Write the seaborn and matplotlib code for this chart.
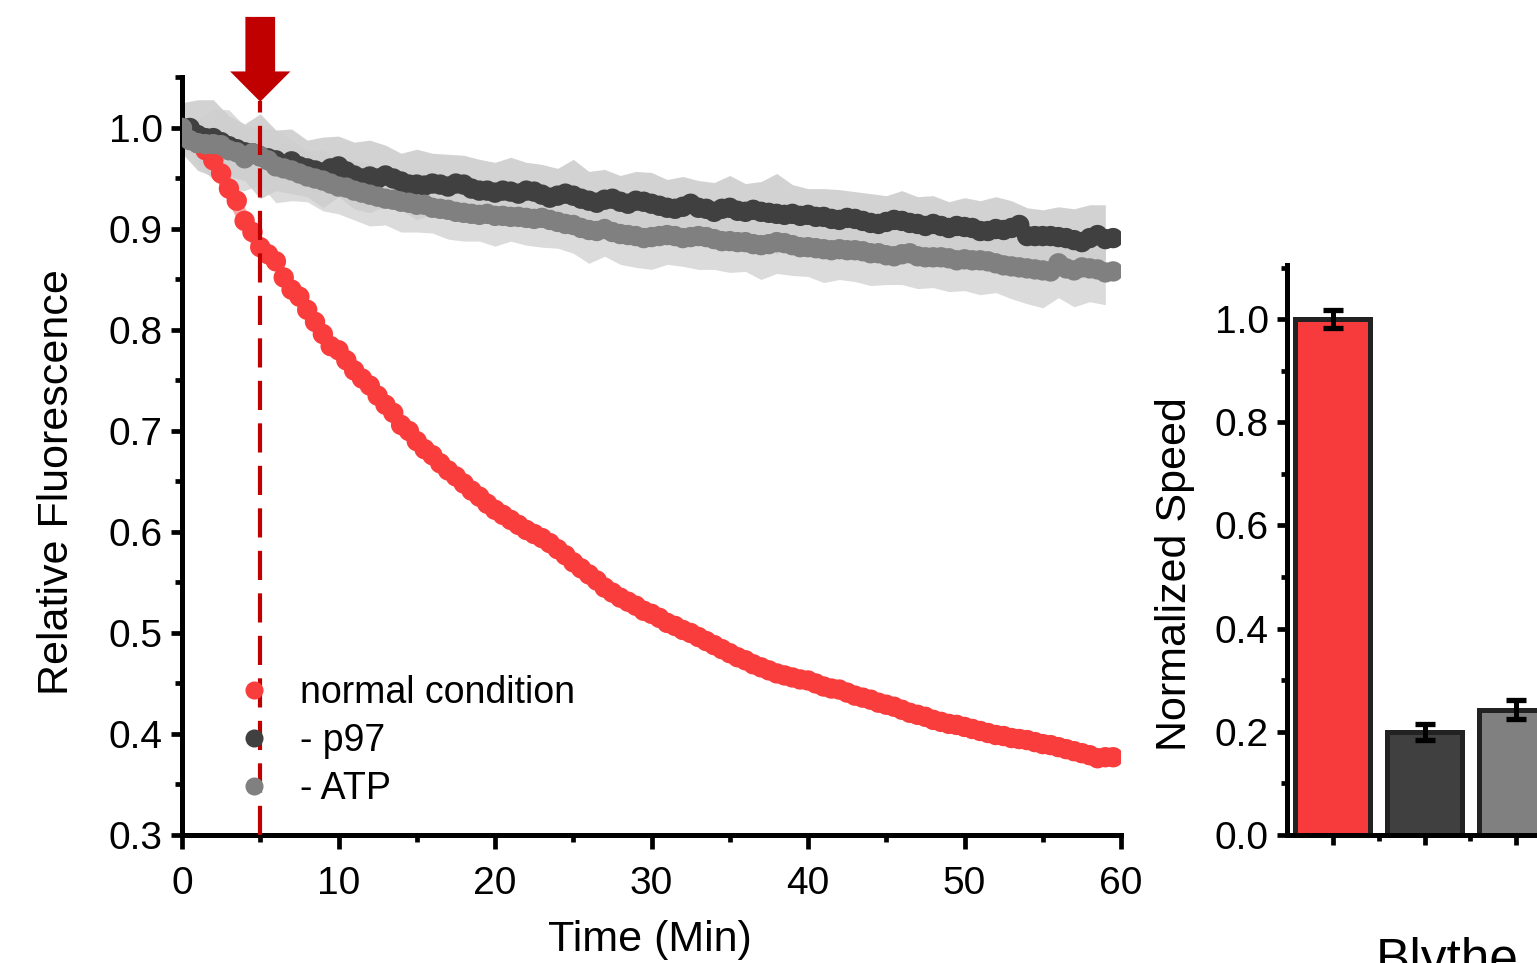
import numpy as np
import pandas as pd
import matplotlib
matplotlib.use("Agg")
import matplotlib.pyplot as plt
from matplotlib.lines import Line2D
from matplotlib.ticker import MultipleLocator, FixedLocator
import seaborn as sns

# ---------------- data ----------------
time_min = [i * 0.5 for i in range(120)]

normal_condition = [
    1.000, 0.995, 0.985, 0.978, 0.968, 0.955, 0.940, 0.928, 0.908, 0.897,
    0.882, 0.875, 0.868, 0.852, 0.840, 0.833, 0.820, 0.808, 0.796, 0.784,
    0.780, 0.770, 0.760, 0.752, 0.745, 0.735, 0.726, 0.718, 0.706, 0.700,
    0.690, 0.682, 0.676, 0.668, 0.661, 0.655, 0.648, 0.641, 0.635, 0.628,
    0.622, 0.617, 0.612, 0.607, 0.602, 0.598, 0.594, 0.589, 0.583, 0.577,
    0.570, 0.564, 0.558, 0.552, 0.545, 0.540, 0.535, 0.531, 0.527, 0.522,
    0.519, 0.515, 0.510, 0.507, 0.503, 0.500, 0.496, 0.492, 0.488, 0.484,
    0.480, 0.476, 0.473, 0.469, 0.466, 0.463, 0.460, 0.458, 0.456, 0.454,
    0.453, 0.450, 0.447, 0.445, 0.444, 0.441, 0.438, 0.436, 0.434, 0.431,
    0.429, 0.427, 0.424, 0.421, 0.419, 0.417, 0.414, 0.412, 0.410, 0.409,
    0.407, 0.405, 0.403, 0.401, 0.399, 0.398, 0.396, 0.395, 0.394, 0.392,
    0.390, 0.389, 0.387, 0.385, 0.383, 0.381, 0.379, 0.376, 0.377, 0.377,
]

minus_p97 = [
    1.000, 1.000, 0.993, 0.990, 0.990, 0.986, 0.982, 0.979, 0.976, 0.975,
    0.972, 0.970, 0.968, 0.963, 0.967, 0.962, 0.960, 0.958, 0.956, 0.960,
    0.962, 0.957, 0.953, 0.950, 0.952, 0.950, 0.953, 0.950, 0.947, 0.944,
    0.944, 0.943, 0.945, 0.944, 0.942, 0.945, 0.944, 0.940, 0.938, 0.938,
    0.936, 0.938, 0.937, 0.935, 0.938, 0.937, 0.934, 0.931, 0.933, 0.935,
    0.933, 0.930, 0.928, 0.926, 0.929, 0.930, 0.927, 0.925, 0.928, 0.927,
    0.925, 0.923, 0.921, 0.920, 0.922, 0.925, 0.921, 0.920, 0.917, 0.920,
    0.921, 0.918, 0.917, 0.919, 0.917, 0.916, 0.915, 0.914, 0.915, 0.913,
    0.914, 0.912, 0.912, 0.910, 0.909, 0.911, 0.910, 0.908, 0.906, 0.905,
    0.907, 0.909, 0.908, 0.906, 0.905, 0.903, 0.905, 0.903, 0.901, 0.903,
    0.902, 0.901, 0.898, 0.898, 0.900, 0.899, 0.901, 0.904, 0.893, 0.893,
    0.893, 0.893, 0.892, 0.891, 0.889, 0.887, 0.891, 0.894, 0.890, 0.891,
]

minus_atp = [
    1.000, 0.988, 0.985, 0.984, 0.984, 0.983, 0.978, 0.976, 0.970, 0.975,
    0.972, 0.968, 0.962, 0.960, 0.958, 0.955, 0.952, 0.950, 0.948, 0.945,
    0.942, 0.941, 0.938, 0.936, 0.934, 0.932, 0.930, 0.929, 0.927, 0.926,
    0.924, 0.924, 0.921, 0.920, 0.919, 0.917, 0.916, 0.915, 0.914, 0.915,
    0.913, 0.913, 0.912, 0.912, 0.911, 0.910, 0.911, 0.909, 0.907, 0.905,
    0.904, 0.901, 0.899, 0.898, 0.900, 0.897, 0.895, 0.894, 0.893, 0.891,
    0.892, 0.893, 0.894, 0.893, 0.891, 0.892, 0.893, 0.892, 0.890, 0.888,
    0.888, 0.887, 0.887, 0.885, 0.884, 0.885, 0.887, 0.886, 0.884, 0.882,
    0.882, 0.881, 0.880, 0.879, 0.880, 0.879, 0.879, 0.878, 0.876, 0.876,
    0.874, 0.873, 0.875, 0.876, 0.873, 0.872, 0.872, 0.872, 0.871, 0.869,
    0.870, 0.869, 0.869, 0.868, 0.866, 0.864, 0.863, 0.862, 0.861, 0.860,
    0.859, 0.858, 0.866, 0.861, 0.859, 0.862, 0.861, 0.860, 0.857, 0.858,
]

# spread (band half-width) sampled every minute
band_time = list(range(60))
normal_sd = [
    0.004, 0.010, 0.014, 0.015, 0.013, 0.012, 0.010, 0.009, 0.008, 0.008,
    0.007, 0.007, 0.006, 0.006, 0.006, 0.006, 0.006, 0.006, 0.005, 0.005,
    0.005, 0.005, 0.005, 0.006, 0.006, 0.005, 0.005, 0.006, 0.006, 0.006,
    0.006, 0.006, 0.006, 0.007, 0.006, 0.006, 0.006, 0.006, 0.007, 0.006,
    0.006, 0.007, 0.006, 0.006, 0.006, 0.007, 0.006, 0.006, 0.007, 0.007,
    0.006, 0.007, 0.007, 0.006, 0.007, 0.007, 0.008, 0.009, 0.008, 0.008,
]
p97_sd = [
    0.025, 0.035, 0.038, 0.030, 0.028, 0.042, 0.030, 0.032, 0.028, 0.035,
    0.030, 0.033, 0.036, 0.030, 0.028, 0.035, 0.030, 0.032, 0.029, 0.031,
    0.030, 0.034, 0.028, 0.030, 0.027, 0.036, 0.029, 0.030, 0.026, 0.029,
    0.031, 0.028, 0.030, 0.027, 0.029, 0.032, 0.028, 0.030, 0.040, 0.029,
    0.026, 0.028, 0.030, 0.027, 0.029, 0.026, 0.030, 0.027, 0.028, 0.026,
    0.029, 0.030, 0.032, 0.027, 0.028, 0.026, 0.030, 0.031, 0.033, 0.034,
]
atp_sd = [
    0.010, 0.022, 0.035, 0.040, 0.032, 0.028, 0.036, 0.030, 0.025, 0.030,
    0.027, 0.029, 0.031, 0.026, 0.030, 0.027, 0.025, 0.029, 0.028, 0.026,
    0.030, 0.024, 0.027, 0.029, 0.026, 0.028, 0.033, 0.027, 0.030, 0.031,
    0.032, 0.029, 0.028, 0.033, 0.030, 0.031, 0.029, 0.034, 0.031, 0.030,
    0.029, 0.033, 0.030, 0.031, 0.032, 0.029, 0.030, 0.032, 0.030, 0.033,
    0.031, 0.034, 0.029, 0.032, 0.035, 0.037, 0.034, 0.036, 0.033, 0.032,
]

series_labels = ["normal condition", "- p97", "- ATP"]
series_colors = ["#f93c3c", "#404040", "#808080"]

bar_labels = ["normal condition", "- p97", "- ATP"]
bar_values = [1.00, 0.20, 0.243]
bar_errors = [0.018, 0.016, 0.018]
bar_colors = ["#f73b3c", "#404040", "#808080"]

x_ticks = [0, 10, 20, 30, 40, 50, 60]
y_ticks = [0.3, 0.4, 0.5, 0.6, 0.7, 0.8, 0.9, 1.0]
bar_y_ticks = [0.0, 0.2, 0.4, 0.6, 0.8, 1.0]
arrow_time = 5

# ---------------- style ----------------
sns.set_theme(style="ticks")
plt.rcParams["font.family"] = ["Liberation Sans", "DejaVu Sans"]
plt.rcParams["axes.linewidth"] = 3.6
for k in ["xtick.major.width", "ytick.major.width", "xtick.minor.width", "ytick.minor.width"]:
    plt.rcParams[k] = 3.4
for k in ["text.color", "axes.labelcolor", "xtick.color", "ytick.color", "axes.edgecolor"]:
    plt.rcParams[k] = "black"

W, H = 1537, 963
fig = plt.figure(figsize=(W / 100, H / 100), dpi=100)

def px_axes(l, r, t, b):
    return [l / W, 1 - b / H, (r - l) / W, (b - t) / H]

ax = fig.add_axes(px_axes(182, 1121, 77.5, 835))
ax2 = fig.add_axes(px_axes(1287, 1562, 265, 835))

# ---------------- left panel ----------------
df = pd.DataFrame({
    "time": time_min * 3,
    "value": normal_condition + minus_p97 + minus_atp,
    "condition": [series_labels[0]] * 120 + [series_labels[1]] * 120 + [series_labels[2]] * 120,
})

bt = np.array(band_time, dtype=float)
def at_minutes(arr):
    return np.array(arr)[::2]

ax.fill_between(bt, at_minutes(minus_p97) - np.array(p97_sd), at_minutes(minus_p97) + np.array(p97_sd),
                color="#c4c4c4", alpha=0.75, linewidth=0, zorder=1)
ax.fill_between(bt, at_minutes(minus_atp) - np.array(atp_sd), at_minutes(minus_atp) + np.array(atp_sd),
                color="#cfcfcf", alpha=0.75, linewidth=0, zorder=1)
ax.fill_between(bt, at_minutes(normal_condition) - np.array(normal_sd), at_minutes(normal_condition) + np.array(normal_sd),
                color="#f58f8f", alpha=0.8, linewidth=0, zorder=1)

sns.scatterplot(data=df, x="time", y="value", hue="condition", hue_order=series_labels,
                palette=series_colors, s=215, linewidth=0, alpha=1.0, legend=False, ax=ax, zorder=3)

ax.plot([arrow_time, arrow_time], [0.3, 1.027], color="#c00000", lw=3.0,
        dashes=(7.0, 3.2), zorder=4, clip_on=False)
ax.arrow(arrow_time, 1.11, 0, -0.084, width=1.9, head_width=3.85, head_length=0.03,
         length_includes_head=True, color="#c00000", clip_on=False, zorder=5, linewidth=0)

ax.set_xlim(0, 60)
ax.set_ylim(0.3, 1.05)
ax.xaxis.set_major_locator(FixedLocator(x_ticks))
ax.xaxis.set_minor_locator(MultipleLocator(5))
ax.yaxis.set_major_locator(FixedLocator(y_ticks))
ax.yaxis.set_minor_locator(MultipleLocator(0.05))
ax.set_xticklabels([str(v) for v in x_ticks])
ax.set_yticklabels([f"{v:.1f}" for v in y_ticks])
ax.tick_params(axis="x", which="major", labelsize=28, length=10, direction="out", pad=12)
ax.tick_params(axis="y", which="major", labelsize=28, length=8, direction="out", pad=6)
ax.tick_params(axis="both", which="minor", length=5, direction="out")
for s in ["top", "right"]:
    ax.spines[s].set_visible(False)

ax.set_xlabel("Time (Min)", fontsize=31)
ax.set_ylabel("Relative Fluorescence", fontsize=31)
ax.xaxis.set_label_coords(0.498, -0.112)
ax.yaxis.set_label_coords(-0.112, 0.466)

handles = [Line2D([], [], marker="o", linestyle="none", markersize=13,
                  markerfacecolor=c, markeredgewidth=0) for c in series_colors]
ax.legend(handles, series_labels, loc="upper left", bbox_to_anchor=(0.057, 0.211),
          frameon=False, fontsize=27, handlelength=1.0, handletextpad=0.72,
          labelspacing=0.32, borderaxespad=0, borderpad=0, labelcolor="black")

# ---------------- right panel ----------------
dfb = pd.DataFrame({"condition": bar_labels, "speed": bar_values})
sns.barplot(data=dfb, x="condition", y="speed", hue="condition", palette=bar_colors,
            order=bar_labels, hue_order=bar_labels, legend=False, width=0.82,
            edgecolor="#222222", linewidth=3.6, errorbar=None, ax=ax2, saturation=1.0)
ax2.errorbar(range(len(bar_values)), bar_values, yerr=bar_errors, fmt="none",
             ecolor="black", elinewidth=3.6, capsize=7, capthick=3.8, zorder=5)

ax2.set_xlim(-0.5, 2.5)
ax2.set_ylim(0, 1.105)
ax2.yaxis.set_major_locator(FixedLocator(bar_y_ticks))
ax2.yaxis.set_minor_locator(MultipleLocator(0.1))
ax2.set_yticklabels([f"{v:.1f}" for v in bar_y_ticks])
ax2.xaxis.set_minor_locator(FixedLocator([0.5, 1.5]))
ax2.set_xticklabels([])
ax2.tick_params(axis="both", which="major", labelsize=28, length=7, direction="out", pad=6)
ax2.tick_params(axis="both", which="minor", length=4, direction="out")
for s in ["top", "right"]:
    ax2.spines[s].set_visible(False)
ax2.set_xlabel("")
ax2.set_ylabel("Normalized Speed", fontsize=31)
ax2.yaxis.set_label_coords(-0.335, 0.458)

fig.text(1447 / W, 1 - 975 / H, "Blythe", fontsize=37, ha="center", va="baseline")

fig.savefig("out.png", dpi=100)
